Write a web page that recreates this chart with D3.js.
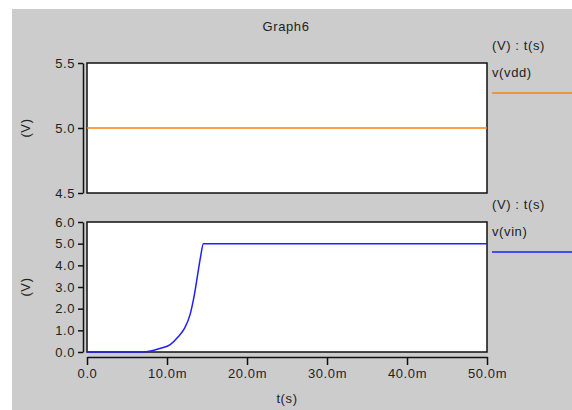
<!DOCTYPE html>
<html>
<head>
<meta charset="utf-8">
<script src="https://cdn.jsdelivr.net/npm/d3@7"></script>
<style>
  body { margin: 0; background: #fff; }
  svg text { font-family: "Liberation Sans", Arial, sans-serif; font-size: 13px; letter-spacing: 0.6px; fill: #222; }
</style>
</head>
<body>
<div id="chart"></div>
<script>
// data
var vddTime = [0, 50];
var vddVolts = [5, 5];
var vinTime = [0, 7.0, 8.0, 9.2, 10.4, 11.4, 12.2, 12.9, 13.4, 13.8, 14.2, 14.55, 50];
var vinVolts = [0, 0, 0.05, 0.17, 0.34, 0.7, 1.1, 1.75, 2.6, 3.5, 4.4, 5.0, 5.0];
var xTicks = [0, 10, 20, 30, 40, 50];
var topTicks = [4.5, 5.0, 5.5];
var botTicks = [0, 1, 2, 3, 4, 5, 6];

var svgWidth = 572, svgHeight = 410;

var svg = d3.select("#chart").append("svg")
  .attr("width", svgWidth)
  .attr("height", svgHeight);

//grey panel
svg.append("rect")
  .attr("x", 12).attr("y", 9)
  .attr("width", svgWidth - 12).attr("height", svgHeight - 9)
  .attr("fill", "#cccccc");

svg.append("text")
  .attr("x", 286).attr("y", 31)
  .attr("text-anchor", "middle")
  .text("Graph6");

var x = d3.scaleLinear().domain([0, 50]).range([87, 487]);
var yTop = d3.scaleLinear().domain([4.5, 5.5]).range([193, 63]);
var yBot = d3.scaleLinear().domain([0, 6]).range([352, 222]);

function drawPanel(yScale, ticks, times, volts, color, legendY, name) {
  var r = yScale.range();
  svg.append("rect")
    .attr("x", 87).attr("y", r[1])
    .attr("width", 400).attr("height", r[0] - r[1])
    .attr("fill", "#fff")
    .attr("stroke", "#111")
    .attr("stroke-width", 1.5);

  var leftAxis = d3.axisLeft(yScale)
    .tickValues(ticks)
    .tickFormat(d3.format(".1f"))
    .tickSize(5)
    .tickSizeOuter(0)
    .tickPadding(3);
  var g = svg.append("g")
    .attr("transform", "translate(83,0)")
    .call(leftAxis);
  g.select(".domain").attr("stroke", "#111").attr("stroke-width", 1.5);
  g.selectAll(".tick line").attr("stroke", "#111").attr("stroke-width", 1.5);
  g.attr("font-family", null).attr("font-size", null);

  svg.append("text")
    .attr("transform", "translate(30," + ((r[0] + r[1]) / 2) + ") rotate(-90)")
    .attr("text-anchor", "middle")
    .text("(V)");

  var line = d3.line()
    .x(function(d, i) { return x(times[i]); })
    .y(function(d, i) { return yScale(volts[i]); })
    .curve(d3.curveMonotoneX);
  svg.append("path")
    .datum(times)
    .attr("d", line)
    .attr("fill", "none")
    .attr("stroke", color)
    .attr("stroke-width", 1.5);

  //legend on the right
  svg.append("text").attr("x", 492).attr("y", legendY).text("(V) : t(s)");
  svg.append("text").attr("x", 492).attr("y", legendY + 27).text(name);
  svg.append("line")
    .attr("x1", 492).attr("x2", 572)
    .attr("y1", legendY + 43).attr("y2", legendY + 43)
    .attr("stroke", color)
    .attr("stroke-width", 1.5);
}

drawPanel(yTop, topTicks, vddTime, vddVolts, "#ff7f0e", 50, "v(vdd)");
drawPanel(yBot, botTicks, vinTime, vinVolts, "#1f1fff", 209, "v(vin)");

//bottom time axis
var bottomAxis = d3.axisBottom(x)
  .tickValues(xTicks)
  .tickFormat(function(d) { return d === 0 ? "0.0" : d.toFixed(1) + "m"; })
  .tickSize(8)
  .tickSizeOuter(0)
  .tickPadding(4);
var xg = svg.append("g")
  .attr("transform", "translate(0,357)")
  .call(bottomAxis);
xg.select(".domain").attr("stroke", "#111").attr("stroke-width", 1.5);
xg.selectAll(".tick line").attr("stroke", "#111").attr("stroke-width", 1.5);
xg.attr("font-family", null).attr("font-size", null);

svg.append("text")
  .attr("x", 287).attr("y", 403)
  .attr("text-anchor", "middle")
  .text("t(s)");
</script>
</body>
</html>
